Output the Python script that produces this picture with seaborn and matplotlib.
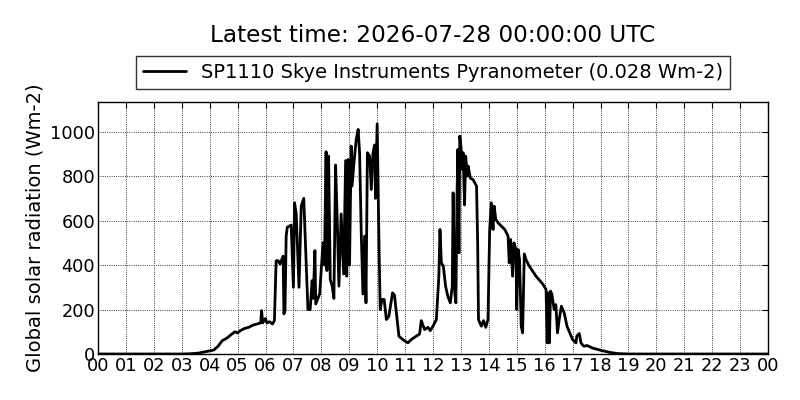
import pandas as pd
import seaborn as sns
import matplotlib
matplotlib.use("Agg")
import matplotlib.pyplot as plt

# hours since midnight
hours = [
    0.0, 1.0, 2.0, 3.0, 3.3, 3.6, 3.85, 4.0, 4.15, 4.3, 4.45, 4.6, 4.75, 4.9, 5.0,
    5.1, 5.25, 5.4, 5.55, 5.7, 5.83, 5.86, 5.9, 6.0, 6.05, 6.15, 6.25, 6.32, 6.38,
    6.45, 6.52, 6.6, 6.63, 6.66, 6.7, 6.74, 6.78, 6.92, 7.0, 7.04, 7.1, 7.2, 7.28,
    7.37, 7.43, 7.52, 7.6, 7.67, 7.71, 7.77, 7.8, 7.94, 8.06, 8.11, 8.17, 8.2, 8.26,
    8.32, 8.39, 8.45, 8.51, 8.57, 8.63, 8.71, 8.8, 8.87, 8.91, 8.96, 9.01, 9.07, 9.1,
    9.18, 9.25, 9.32, 9.37, 9.43, 9.49, 9.55, 9.6, 9.65, 9.73, 9.79, 9.85, 9.91, 9.94,
    10.0, 10.07, 10.11, 10.17, 10.25, 10.33, 10.42, 10.55, 10.62, 10.69, 10.78, 10.92,
    11.1, 11.22, 11.4, 11.52, 11.58, 11.7, 11.82, 11.9, 12.0, 12.12, 12.21, 12.25,
    12.3, 12.37, 12.45, 12.53, 12.62, 12.69, 12.72, 12.78, 12.82, 12.86, 12.89, 12.93,
    12.96, 13.0, 13.05, 13.08, 13.13, 13.17, 13.23, 13.26, 13.34, 13.43, 13.56, 13.6,
    13.63, 13.73, 13.81, 13.89, 13.97, 14.03, 14.09, 14.15, 14.19, 14.25, 14.33, 14.45,
    14.57, 14.69, 14.73, 14.78, 14.85, 14.9, 14.97, 15.0, 15.05, 15.1, 15.16, 15.21,
    15.27, 15.33, 15.45, 15.69, 15.93, 16.05, 16.09, 16.13, 16.17, 16.21, 16.26, 16.34,
    16.4, 16.46, 16.52, 16.6, 16.7, 16.8, 16.9, 17.0, 17.12, 17.15, 17.24, 17.3, 17.4,
    17.52, 17.71, 18.0, 18.3, 18.6, 19.0, 20.0, 21.0, 22.0, 23.0, 24.0,
]

radiation = [
    0, 0, 0, 0, 1, 4, 10, 14, 18, 35, 60, 70, 85, 100, 95,
    105, 115, 120, 130, 135, 140, 195, 140, 160, 140, 145, 135, 150, 419,
    420, 405, 430, 440, 180, 200, 530, 570, 580, 300, 680, 630, 300, 665,
    700, 500, 200, 200, 330, 250, 465, 225, 270, 500, 400, 910, 375, 890,
    335, 305, 250, 850, 600, 305, 630, 360, 870, 350, 875, 400, 935, 755,
    875, 965, 1010, 905, 545, 270, 530, 230, 905, 890, 740, 905, 940, 700,
    1035, 460, 200, 245, 245, 155, 170, 275, 265, 185, 80, 65,
    50, 65, 80, 90, 150, 110, 120, 105, 125, 155, 350, 560,
    410, 395, 305, 260, 230, 305, 725, 275, 230, 710, 920, 455,
    980, 935, 830, 905, 670, 890, 800, 845, 790, 785, 755, 500,
    155, 125, 150, 120, 155, 560, 680, 560, 665, 605, 590, 575,
    560, 530, 410, 515, 350, 500, 470, 200, 470, 425, 125, 95,
    450, 425, 395, 350, 315, 290, 50, 275, 50, 283, 268, 200,
    222, 95, 155, 215, 185, 125, 95, 65, 50, 80, 92, 50, 35,
    38, 27, 17, 8, 2, 0, 0, 0, 0, 0, 0,
]

hour_labels = ["%02d" % h for h in range(24)] + ["00"]
sensor_name = "SP1110 Skye Instruments Pyranometer (0.028 Wm-2)"
title_text = "Latest time: 2026-07-28 00:00:00 UTC"

df = pd.DataFrame({"hour": hours, "radiation": radiation})

sns.set_style("white")
plt.rcParams["font.family"] = ["DejaVu Sans"]
plt.rcParams["xtick.direction"] = "in"
plt.rcParams["ytick.direction"] = "in"
plt.rcParams["text.color"] = "black"
plt.rcParams["axes.labelcolor"] = "black"
plt.rcParams["xtick.color"] = "black"
plt.rcParams["ytick.color"] = "black"

fig = plt.figure(figsize=(8, 4), dpi=100)
ax = fig.add_axes([0.1225, 0.115, 0.8375, 0.63])

sns.lineplot(data=df, x="hour", y="radiation", ax=ax, color="black",
             linewidth=2, label=sensor_name)

ax.set_xlim(0, 24)
ax.set_ylim(0, max(radiation) * 1.095)
ax.set_xticks(range(25))
ax.set_xticklabels(hour_labels)
ax.set_yticks(range(0, 1001, 200))
ax.tick_params(axis="both", labelsize=12.8, top=True, right=True,
               length=4, width=0.8, color="black", pad=2)
ax.grid(True, color="black", linestyle=":", linewidth=0.6)
for sp in ax.spines.values():
    sp.set_color("black")
    sp.set_linewidth(1.0)

ax.set_xlabel("")
ax.set_ylabel("Global solar radiation (Wm-2)", fontsize=14, labelpad=4)

leg = ax.legend(loc="lower center", bbox_to_anchor=(0.5, 1.052), fontsize=14,
                fancybox=False, frameon=True, borderaxespad=0, handlelength=2.2,
                borderpad=0.35)
leg.get_frame().set_edgecolor("black")
leg.get_frame().set_linewidth(1.0)

# title is centred over the axes, not the figure
fig.text(0.5413, 0.912, title_text, ha="center", va="center", fontsize=16.7)

fig.savefig("out.png", dpi=100, facecolor="white")
